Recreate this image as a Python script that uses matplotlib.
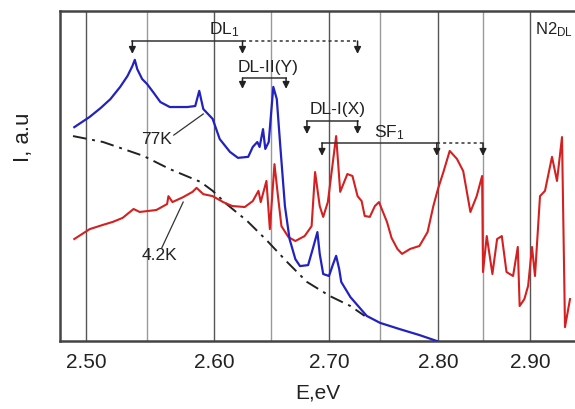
import numpy as np
import matplotlib
matplotlib.use('Agg')
import matplotlib.pyplot as plt

plt.rcParams['font.family'] = ['Liberation Sans', 'DejaVu Sans']
plt.rcParams['mathtext.default'] = 'regular'

# energy axis of the figure is not linear in E (closer to a wavelength scale),
# so the grid energies get their relative positions
grid_e = [2.48, 2.50, 2.55, 2.60, 2.65, 2.70, 2.75, 2.80, 2.85, 2.90, 2.945]
grid_pos = [60, 86, 147, 214, 271, 329, 380, 438, 483, 530, 575]

# 77K spectrum (blue)
e_77 = [2.491, 2.503, 2.512, 2.520, 2.528, 2.534, 2.538, 2.540, 2.542, 2.546,
        2.550, 2.555, 2.560, 2.567, 2.580, 2.586, 2.589, 2.592, 2.599, 2.605,
        2.614, 2.621, 2.630, 2.634, 2.638, 2.640, 2.643, 2.645, 2.648, 2.652,
        2.655, 2.658, 2.662, 2.666, 2.671, 2.675, 2.682, 2.686, 2.690, 2.692,
        2.695, 2.700, 2.704, 2.707, 2.710, 2.712, 2.721, 2.737, 2.750, 2.767,
        2.784, 2.799]
i_77 = [64.8, 67.9, 70.6, 73.3, 77.0, 80.3, 83.3, 85.2, 82.4, 79.4,
        77.9, 75.2, 72.4, 70.9, 70.9, 71.2, 75.8, 70.3, 67.3, 61.2,
        57.3, 55.5, 55.8, 58.8, 60.3, 58.8, 64.2, 58.2, 60.3, 77.0,
        73.3, 59.1, 40.9, 30.9, 24.8, 22.7, 23.0, 27.9, 33.0, 26.4,
        20.3, 19.7, 23.3, 25.8, 21.8, 17.9, 13.3, 7.6, 5.5, 3.6,
        1.8, 0.0]

# 4.2K spectrum (red)
e_42 = [2.491, 2.503, 2.514, 2.522, 2.530, 2.539, 2.544, 2.557, 2.565, 2.566,
        2.569, 2.577, 2.584, 2.587, 2.592, 2.599, 2.608, 2.616, 2.627, 2.634,
        2.639, 2.641, 2.646, 2.649, 2.653, 2.656, 2.659, 2.665, 2.671, 2.679,
        2.685, 2.688, 2.692, 2.695, 2.699, 2.707, 2.711, 2.718, 2.723, 2.728,
        2.732, 2.735, 2.740, 2.745, 2.749, 2.756, 2.760, 2.765, 2.769, 2.776,
        2.784, 2.791, 2.796, 2.800, 2.806, 2.813, 2.821, 2.828, 2.836, 2.843,
        2.849, 2.850, 2.854, 2.860, 2.865, 2.870, 2.875, 2.882, 2.887, 2.889,
        2.894, 2.898, 2.902, 2.905, 2.910, 2.915, 2.922, 2.927, 2.932, 2.935,
        2.940]
i_42 = [30.9, 33.9, 35.2, 36.1, 37.3, 40.0, 39.1, 39.7, 41.5, 43.9,
        42.1, 43.6, 45.2, 46.4, 44.5, 43.9, 42.1, 40.9, 40.6, 42.4,
        45.5, 42.1, 48.5, 33.9, 53.6, 43.9, 34.8, 31.5, 30.3, 31.8,
        34.8, 51.2, 40.9, 37.6, 42.1, 62.1, 45.2, 50.6, 50.0, 43.9,
        42.4, 37.9, 37.6, 40.9, 42.1, 36.1, 31.2, 27.9, 26.4, 27.9,
        28.8, 33.0, 40.9, 46.1, 51.2, 57.6, 55.2, 51.5, 39.1, 43.9,
        50.0, 20.9, 31.8, 20.3, 30.9, 31.8, 20.9, 19.7, 28.5, 10.6,
        12.7, 16.7, 28.5, 19.7, 43.9, 45.5, 55.8, 48.5, 61.8, 4.2,
        12.7]

# background (dash-dot)
e_bg = [2.490, 2.514, 2.547, 2.567, 2.590, 2.599, 2.611, 2.629, 2.646, 2.664,
        2.681, 2.701, 2.721, 2.735]
i_bg = [62.1, 60.3, 56.1, 52.1, 48.2, 45.5, 41.5, 36.4, 30.6, 23.9,
        17.9, 13.6, 10.6, 7.6]

major_e = [2.50, 2.60, 2.70, 2.80, 2.90]
minor_e = [2.55, 2.65, 2.75, 2.85]


def fwd(e):
    return np.interp(e, grid_e, grid_pos, left=np.nan, right=np.nan)


def inv(p):
    return np.interp(p, grid_pos, grid_e, left=np.nan, right=np.nan)


fig = plt.figure(figsize=(5.75, 4.10), dpi=100)
ax = fig.add_axes([60 / 575, 68 / 410, 515 / 575, 330 / 410])
ax.set_xscale('function', functions=(fwd, inv))
ax.set_xlim(2.48, 2.945)
ax.set_ylim(0, 100)

for e in major_e:
    ax.axvline(e, color='#555555', lw=1.0, zorder=1)
for e in minor_e:
    ax.axvline(e, color='#999999', lw=1.0, zorder=1)

ax.plot(e_bg, i_bg, color='#222222', lw=1.4, ls=(0, (7, 3, 1.5, 3)), zorder=2)
ax.plot(e_42, i_42, color='#d42020', lw=1.5, zorder=3, solid_joinstyle='round')
ax.plot(e_77, i_77, color='#2222c0', lw=1.6, zorder=4, solid_joinstyle='round')


def bracket(xs, y, tip, solid_to=None):
    # horizontal bar with down arrows; part after solid_to is dotted
    end = solid_to if solid_to is not None else xs[-1]
    ax.plot([xs[0], end], [y, y], color='#333333', lw=1.1, zorder=5)
    if solid_to is not None:
        ax.plot([solid_to, xs[-1]], [y, y], color='#333333', lw=1.1,
                ls=(0, (2, 2)), zorder=5)
    for x in xs:
        ax.annotate('', xy=(x, tip), xytext=(x, y),
                    arrowprops=dict(arrowstyle='-|>', color='#222222', lw=1.1,
                                    mutation_scale=10, shrinkA=0, shrinkB=0),
                    zorder=5)


bracket([2.538, 2.625, 2.728], 90.9, 87.0, solid_to=2.625)
bracket([2.625, 2.663], 79.7, 76.4)
bracket([2.681, 2.728], 66.7, 62.7)
bracket([2.694, 2.799, 2.850], 60.0, 56.1, solid_to=2.799)

tkw = dict(fontsize=12.5, color='#222222', ha='center', va='center')
ax.text(2.609, 94.5, 'DL$_1$', **tkw)
ax.text(2.647, 83.3, 'DL-II(Y)', **tkw)
ax.text(2.708, 70.6, 'DL-I(X)', **tkw)
ax.text(2.758, 63.3, 'SF$_1$', **tkw)
ax.text(2.905, 94.5, 'N2$_{DL}$', fontsize=12, color='#222222',
        ha='left', va='center')
ax.text(2.557, 61.5, '77K', **tkw)
ax.text(2.559, 26.1, '4.2K', **tkw)
ax.plot([2.570, 2.592], [62.4, 68.8], color='#333333', lw=0.9)
ax.plot([2.561, 2.577], [28.2, 42.1], color='#333333', lw=0.9)

ax.set_xticks(major_e)
ax.set_xticklabels(['%.2f' % e for e in major_e])
ax.minorticks_off()
ax.set_yticks([])
ax.tick_params(axis='x', length=0, labelsize=15, pad=8, colors='#222222')
ax.set_xlabel('E,eV', fontsize=15, color='#222222', labelpad=8)
ax.set_ylabel('I, a.u', fontsize=16, color='#222222')
ax.yaxis.set_label_coords(-0.05, 0.62)

for s in ['left', 'top', 'bottom']:
    ax.spines[s].set_color('#444444')
    ax.spines[s].set_linewidth(1.8)
ax.spines['right'].set_visible(False)

fig.savefig('out.png', dpi=100)
